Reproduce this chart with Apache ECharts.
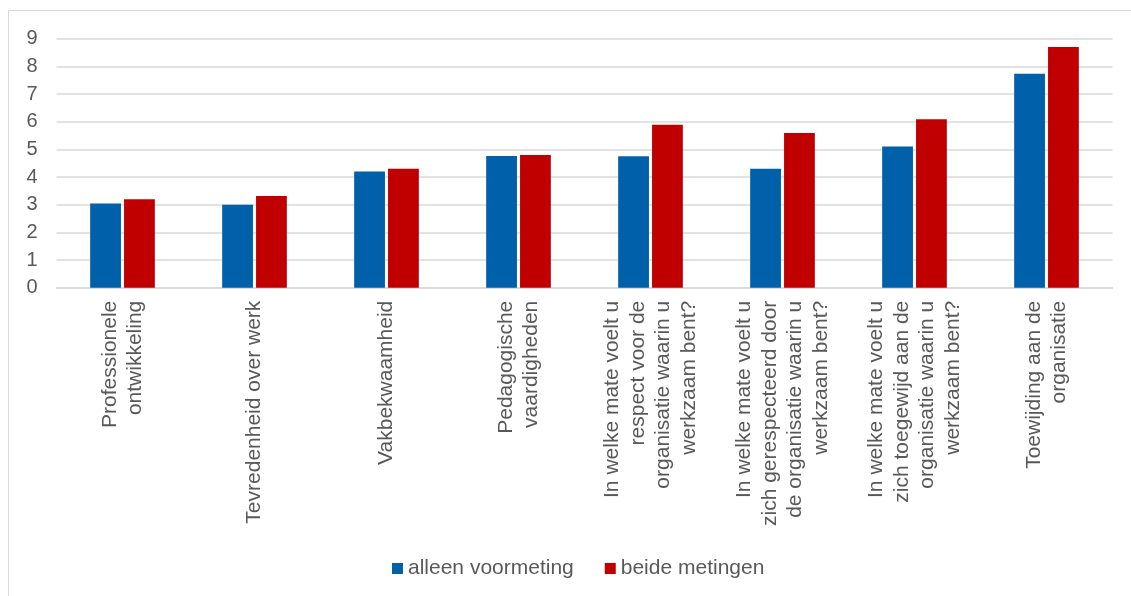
<!DOCTYPE html>
<html>
<head>
<meta charset="utf-8">
<style>
  html, body { margin: 0; padding: 0; background: #ffffff; overflow: hidden; }
  #chart { width: 1131px; height: 596px; }
</style>
<script src="https://cdn.jsdelivr.net/npm/echarts@6/dist/echarts.min.js"></script>
</head>
<body>
<div id="chart"></div>
<script>
// Category labels (line breaks as they wrap under the axis)
const categories = [
  'Professionele\nontwikkeling',
  'Tevredenheid over werk',
  'Vakbekwaamheid',
  'Pedagogische\nvaardigheden',
  'In welke mate voelt u\nrespect voor de\norganisatie waarin u\nwerkzaam bent?',
  'In welke mate voelt u\nzich gerespecteerd door\nde organisatie waarin u\nwerkzaam bent?',
  'In welke mate voelt u\nzich toegewijd aan de\norganisatie waarin u\nwerkzaam bent?',
  'Toewijding aan de\norganisatie'
];

const seriesNames = ['alleen voormeting', 'beide metingen'];
const alleenVoormeting = [3.04, 3.00, 4.20, 4.76, 4.75, 4.30, 5.10, 7.73];
const beideMetingen = [3.20, 3.31, 4.30, 4.80, 5.89, 5.59, 6.09, 8.70];

const yMin = 0, yMax = 9, yStep = 1;

const textColor = '#595959';
const gridColor = '#d9d9d9';
const fontFamily = '"Liberation Sans", Arial, sans-serif';

const chart = echarts.init(document.getElementById('chart'), null, { renderer: 'canvas' });

chart.setOption({
  animation: false,
  backgroundColor: '#ffffff',
  textStyle: { fontFamily: fontFamily },
  graphic: [{
    type: 'rect',
    silent: true,
    z: -10,
    shape: { x: 8.5, y: 10.5, width: 1300, height: 800 },
    style: { fill: 'none', stroke: gridColor, lineWidth: 1 }
  }],
  grid: { left: 56.5, right: 18.5, top: 38.7, bottom: 308.3, containLabel: false },
  legend: {
    data: seriesNames,
    left: 387,
    top: 553,
    icon: 'rect',
    itemWidth: 11,
    itemHeight: 11,
    itemGap: 31,
    textStyle: { color: textColor, fontSize: 21, fontFamily: fontFamily }
  },
  xAxis: {
    type: 'category',
    data: categories,
    axisLine: { show: true, lineStyle: { color: gridColor, width: 1.5 } },
    axisTick: { show: false },
    axisLabel: {
      rotate: 90,
      interval: 0,
      margin: 13,
      color: textColor,
      fontSize: 21,
      lineHeight: 25.5,
      fontFamily: fontFamily
    }
  },
  yAxis: {
    type: 'value',
    min: yMin,
    max: yMax,
    interval: yStep,
    axisLine: { show: false },
    axisTick: { show: false },
    axisLabel: { color: textColor, fontSize: 20, margin: 19, fontFamily: fontFamily },
    splitLine: { lineStyle: { color: gridColor, width: 1.5 } }
  },
  series: [
    {
      name: seriesNames[0],
      type: 'bar',
      data: alleenVoormeting,
      barGap: '10%',
      barCategoryGap: '51%',
      itemStyle: { color: '#0061AA' }
    },
    {
      name: seriesNames[1],
      type: 'bar',
      data: beideMetingen,
      barGap: '10%',
      barCategoryGap: '51%',
      itemStyle: { color: '#C00000' }
    }
  ]
});
</script>
</body>
</html>
